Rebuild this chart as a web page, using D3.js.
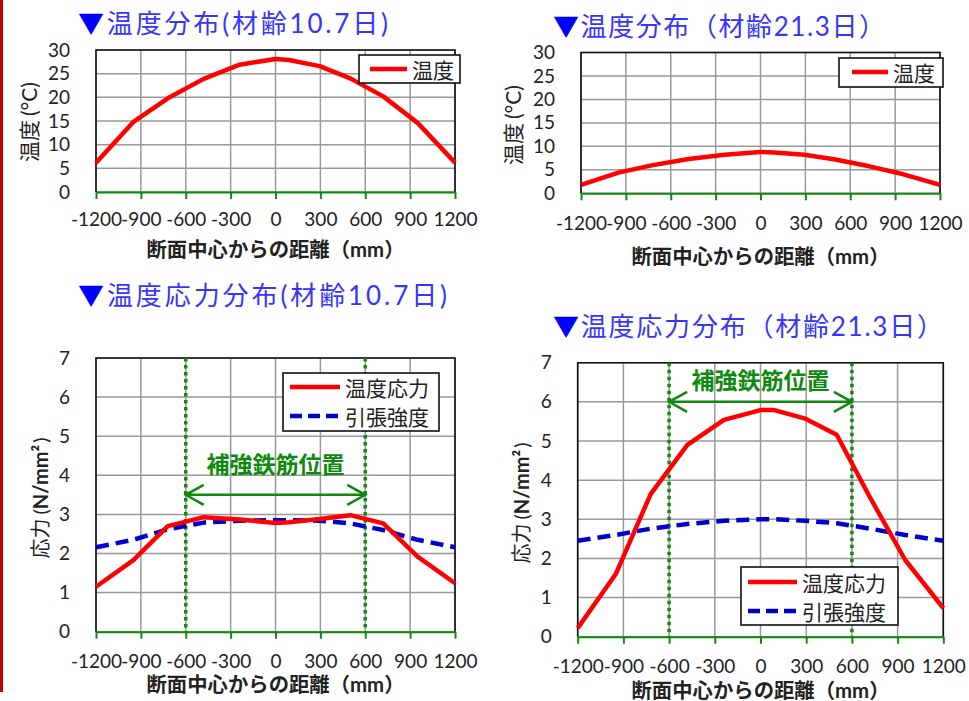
<!DOCTYPE html>
<html>
<head>
<meta charset="utf-8">
<script src="https://cdn.jsdelivr.net/npm/d3@7"></script>
<style>
  body { margin: 0; background: #fff; }
  svg { display: block; }
  text { font-family: Lato, "Noto Sans CJK JP", sans-serif; }
</style>
</head>
<body>
<svg width="969" height="701"></svg>
<script>
// distance from section centre (mm) of the analysis nodes
const distX = [-1200, -950, -720, -480, -240, 0, 90, 295, 500, 720, 950, 1200];
// temperature (°C)
const temp107 = [6.2, 14.8, 19.8, 23.9, 26.9, 28.1, 27.9, 26.6, 24.0, 20.2, 14.6, 6.2];
const temp213 = [1.8, 4.4, 6.0, 7.3, 8.2, 8.8, 8.7, 8.2, 7.2, 5.8, 4.1, 1.8];
// thermal stress and tensile strength (N/mm2)
const stress107 = [1.15, 1.83, 2.70, 2.93, 2.87, 2.78, 2.80, 2.88, 2.98, 2.77, 1.92, 1.24];
const strength107 = [2.16, 2.35, 2.62, 2.79, 2.84, 2.85, 2.85, 2.84, 2.77, 2.60, 2.35, 2.16];
const stress213 = [0.22, 1.60, 3.65, 4.90, 5.54, 5.79, 5.79, 5.57, 5.16, 3.55, 1.96, 0.73];
const strength213 = [2.45, 2.60, 2.76, 2.88, 2.96, 3.00, 3.00, 2.96, 2.90, 2.76, 2.60, 2.45];

const xTicks = [-1200, -900, -600, -300, 0, 300, 600, 900, 1200];
const tempTicks = [0, 5, 10, 15, 20, 25, 30];
const stressTicks = [0, 1, 2, 3, 4, 5, 6, 7];
const rebarX = [-600, 600];

const RED = '#ff0000', BLUE = '#0000cc', GREEN = '#0f8a0f';

const svg = d3.select('svg');
svg.append('rect').attr('x', 0).attr('y', 0).attr('width', 3).attr('height', 692).attr('fill', '#c00000');

const panels = [
  { left: 96, right: 455, top: 50, bottom: 192, yMax: 30, yTicks: tempTicks,
    title: '温度分布(材齢10.7日)', titleX: 78, titleY: 33, titleW: 310,
    yLabel: ['温度', '(°C)'], yLabelX: 28, yLabelY: 122, yLabelSize: 21, tickPad: 14, xTitleY: 257,
    series: [{ name: '温度', values: temp107, color: RED }],
    legend: { x: 359, y: 55, w: 101, h: 28, rows: [69], s1: 11, s2: 48, t: 53 } },
  { left: 581, right: 940, top: 52.5, bottom: 193.3, yMax: 30, yTicks: tempTicks,
    title: '温度分布（材齢21.3日）', titleX: 553, titleY: 36, titleW: 332,
    yLabel: ['温度', '(°C)'], yLabelX: 512, yLabelY: 125, yLabelSize: 21, tickPad: 16, xTitleY: 264,
    series: [{ name: '温度', values: temp213, color: RED }],
    legend: { x: 839, y: 58, w: 104, h: 29, rows: [72], s1: 13, s2: 49, t: 54 } },
  { left: 96, right: 455, top: 358, bottom: 631.7, yMax: 7, yTicks: stressTicks,
    title: '温度応力分布(材齢10.7日)', titleX: 78, titleY: 305, titleW: 369,
    yLabel: ['応力', '(', 'N/mm²', ')'], yLabelX: 40, yLabelY: 498, yLabelSize: 20, tickPad: 16, xTitleY: 692,
    series: [{ name: '温度応力', values: stress107, color: RED },
             { name: '引張強度', values: strength107, color: BLUE, dash: '13,7' }],
    legend: { x: 283, y: 373, w: 156, h: 58, rows: [387, 416], s1: 7, s2: 57, t: 62 },
    rebar: { arrowY: 3.5, textY: 4.3 } },
  { left: 577.7, right: 943.3, top: 362.7, bottom: 636.7, yMax: 7, yTicks: stressTicks,
    title: '温度応力分布（材齢21.3日）', titleX: 553, titleY: 336, titleW: 390,
    yLabel: ['応力', '(', 'N/mm²', ')'], yLabelX: 521, yLabelY: 503, yLabelSize: 20, tickPad: 16, xTitleY: 698,
    series: [{ name: '温度応力', values: stress213, color: RED },
             { name: '引張強度', values: strength213, color: BLUE, dash: '13,7' }],
    legend: { x: 741, y: 567, w: 157, h: 58, rows: [582, 611], s1: 7, s2: 56, t: 61 },
    rebar: { arrowY: 6.0, textY: 6.55 } }
];

panels.forEach(cfg => {
  const g = svg.append('g');
  const x = d3.scaleLinear().domain([-1200, 1200]).range([cfg.left, cfg.right]);
  const y = d3.scaleLinear().domain([0, cfg.yMax]).range([cfg.bottom, cfg.top]);

  // title
  const t = g.append('text').attr('x', cfg.titleX).attr('y', cfg.titleY)
    .attr('font-size', 26).attr('textLength', cfg.titleW).attr('lengthAdjust', 'spacing');
  t.append('tspan').attr('fill', '#0000ff').text('▼');
  t.append('tspan').attr('fill', '#3535ff').text(cfg.title);

  // grid
  g.selectAll('line.vg').data(xTicks).join('line').attr('class', 'vg')
    .attr('x1', d => x(d)).attr('x2', d => x(d)).attr('y1', cfg.top).attr('y2', cfg.bottom)
    .attr('stroke', '#999').attr('stroke-width', 1.5);
  g.selectAll('line.hg').data(cfg.yTicks).join('line').attr('class', 'hg')
    .attr('x1', cfg.left).attr('x2', cfg.right).attr('y1', d => y(d)).attr('y2', d => y(d))
    .attr('stroke', '#999').attr('stroke-width', 1.5);

  // frame (top, left, right)
  g.append('path')
    .attr('d', `M${cfg.left},${cfg.bottom}V${cfg.top}H${cfg.right}V${cfg.bottom}`)
    .attr('fill', 'none').attr('stroke', '#111').attr('stroke-width', 1.6);

  // x axis
  const xa = g.append('g').attr('transform', `translate(0,${cfg.bottom})`)
    .call(d3.axisBottom(x).tickValues(xTicks).tickSize(7).tickSizeOuter(0).tickPadding(cfg.tickPad).tickFormat(d => d));
  xa.select('.domain').attr('stroke', GREEN).attr('stroke-width', 2);
  xa.selectAll('.tick line').attr('stroke', GREEN).attr('stroke-width', 2);
  xa.selectAll('.tick text').attr('font-size', 19).attr('fill', '#222').style('font-family', 'Lato');

  // y axis labels
  const ya = g.append('g').attr('transform', `translate(${cfg.left},0)`)
    .call(d3.axisLeft(y).tickValues(cfg.yTicks).tickSize(0).tickPadding(26).tickFormat(d => d));
  ya.select('.domain').remove();
  ya.selectAll('.tick text').attr('font-size', 19).attr('fill', '#222').style('font-family', 'Lato');

  // y title
  const yl = g.append('text').attr('transform', `translate(${cfg.yLabelX},${cfg.yLabelY}) rotate(-90)`)
    .attr('text-anchor', 'middle').attr('dominant-baseline', 'central')
    .attr('font-size', cfg.yLabelSize).attr('fill', '#222');
  cfg.yLabel.forEach((s, i) => {
    yl.append('tspan').attr('font-weight', s === 'N/mm²' ? 'bold' : 'normal')
      .attr('dx', s === '(' || s === '(°C)' ? 4 : (s === ')' ? 2 : 0)).text(s);
  });

  // x title
  g.append('text').attr('x', (cfg.left + cfg.right) / 2).attr('y', cfg.xTitleY)
    .attr('text-anchor', 'middle').attr('font-size', 20).attr('font-weight', 'bold').attr('fill', '#222')
    .attr('textLength', 258).attr('lengthAdjust', 'spacingAndGlyphs')
    .text('断面中心からの距離（mm）');

  // rebar position markers
  if (cfg.rebar) {
    g.selectAll('line.rb').data(rebarX).join('line').attr('class', 'rb')
      .attr('x1', d => x(d)).attr('x2', d => x(d)).attr('y1', cfg.top).attr('y2', cfg.bottom)
      .attr('stroke', GREEN).attr('stroke-width', 3.5).attr('stroke-dasharray', '3.5,3.5');
    const ay = y(cfg.rebar.arrowY), x1 = x(rebarX[0]), x2 = x(rebarX[1]);
    g.append('path')
      .attr('d', `M${x1},${ay}H${x2}M${x1 + 18},${ay - 10}L${x1},${ay}L${x1 + 18},${ay + 10}M${x2 - 18},${ay - 10}L${x2},${ay}L${x2 - 18},${ay + 10}`)
      .attr('fill', 'none').attr('stroke', GREEN).attr('stroke-width', 2.5);
    g.append('text').attr('x', (x1 + x2) / 2).attr('y', y(cfg.rebar.textY))
      .attr('text-anchor', 'middle').attr('dominant-baseline', 'central')
      .attr('font-size', 23).attr('font-weight', 'bold').attr('fill', GREEN).text('補強鉄筋位置');
  }

  // data lines
  const line = d3.line().x((d, i) => x(distX[i])).y(d => y(d));
  cfg.series.slice().reverse().forEach(s => {
    g.append('path').datum(s.values).attr('d', line)
      .attr('fill', 'none').attr('stroke', s.color).attr('stroke-width', 4.5)
      .attr('stroke-linejoin', 'round').attr('stroke-dasharray', s.dash || null);
  });

  // legend
  const L = cfg.legend;
  g.append('rect').attr('x', L.x).attr('y', L.y).attr('width', L.w).attr('height', L.h)
    .attr('fill', '#fff').attr('stroke', '#111').attr('stroke-width', 1.6);
  cfg.series.forEach((s, i) => {
    g.append('line').attr('x1', L.x + L.s1).attr('x2', L.x + L.s2).attr('y1', L.rows[i]).attr('y2', L.rows[i])
      .attr('stroke', s.color).attr('stroke-width', 4.5).attr('stroke-dasharray', s.dash ? '12,6' : null);
    g.append('text').attr('x', L.x + L.t).attr('y', L.rows[i]).attr('dominant-baseline', 'central')
      .attr('font-size', 21).attr('fill', '#222').text(s.name);
  });
});
</script>
</body>
</html>
